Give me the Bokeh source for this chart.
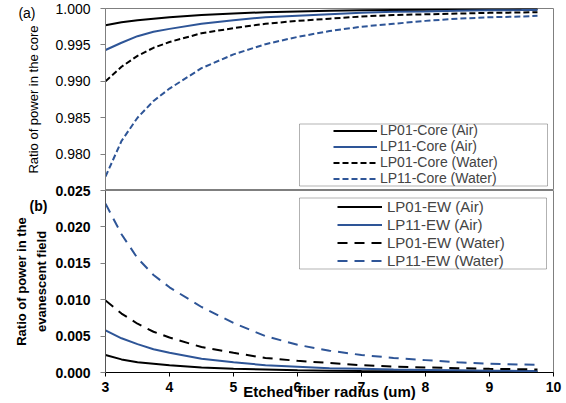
from bokeh.plotting import figure
from bokeh.layouts import column
from bokeh.models import (Range1d, FixedTicker, Legend, LegendItem, LinearAxis,
                          BoxAnnotation, NumeralTickFormatter)
from bokeh.embed import file_html
from bokeh.resources import INLINE

# ---------------- data ----------------
radius = [3, 3.25, 3.5, 3.75, 4, 4.5, 5, 5.5, 6, 6.5, 7, 7.5, 8, 8.5, 9, 9.5, 9.75]

# (a) ratio of power in the core
lp01_core_air = [0.9977, 0.9981, 0.9984, 0.9986, 0.9988, 0.9991, 0.9993, 0.9995, 0.9996,
                 0.9997, 0.99975, 0.9998, 0.99984, 0.99987, 0.9999, 0.99992, 0.99993]
lp11_core_air = [0.9943, 0.9953, 0.9962, 0.9968, 0.9972, 0.9979, 0.9984, 0.9988, 0.9990,
                 0.9992, 0.9994, 0.99955, 0.9996, 0.9997, 0.99975, 0.99978, 0.9998]
lp01_core_water = [0.9900, 0.9920, 0.9935, 0.9946, 0.9954, 0.9966, 0.9973, 0.9979, 0.9983,
                   0.9986, 0.9989, 0.9991, 0.9992, 0.9993, 0.9994, 0.99945, 0.9995]
lp11_core_water = [0.9769, 0.9818, 0.9850, 0.9873, 0.9890, 0.9918, 0.9937, 0.9951, 0.9961,
                   0.9969, 0.9975, 0.9979, 0.9983, 0.9986, 0.9988, 0.9989, 0.9990]

# (b) ratio of power in the evanescent field
lp01_ew_air = [0.0024, 0.0018, 0.0014, 0.0012, 0.0010, 0.0007, 0.0005, 0.0004, 0.0003,
               0.00025, 0.0002, 0.00017, 0.00014, 0.00012, 0.0001, 0.00009, 0.00008]
lp11_ew_air = [0.0058, 0.0047, 0.0039, 0.0032, 0.0027, 0.0019, 0.0014, 0.0010, 0.0008,
               0.0006, 0.0005, 0.0004, 0.00035, 0.0003, 0.00025, 0.00022, 0.0002]
lp01_ew_water = [0.0099, 0.0081, 0.0067, 0.0056, 0.0048, 0.0035, 0.0027, 0.0020, 0.0016,
                 0.0013, 0.0010, 0.0008, 0.0007, 0.0006, 0.0005, 0.00045, 0.0004]
lp11_ew_water = [0.0232, 0.0190, 0.0157, 0.0134, 0.0117, 0.0090, 0.0068, 0.0050, 0.0038,
                 0.0030, 0.0024, 0.0020, 0.0017, 0.0014, 0.0012, 0.0011, 0.00105]

core_labels = ["LP01-Core (Air)", "LP11-Core (Air)", "LP01-Core (Water)", "LP11-Core (Water)"]
ew_labels = ["LP01-EW (Air)", "LP11-EW (Air)", "LP01-EW (Water)", "LP11-EW (Water)"]

x_ticks = [3, 4, 5, 6, 7, 8, 9, 10]
core_ticks = [0.980, 0.985, 0.990, 0.995, 1.000]
ew_ticks = [0.000, 0.005, 0.010, 0.015, 0.020, 0.025]

x_title = "Etched fiber radius (um)"
core_title = "Ratio of power in the core"
ew_title_1 = "Ratio of power in the"
ew_title_2 = "evanescent field"
tag_a, tag_b = "(a)", "(b)"

# ---------------- styling / layout constants ----------------
FONT = "Liberation Sans"
BLUE = "#2E5597"
BLACK = "#000000"
GRAY = "#7f7f7f"
TAG_A_POS = 0.9994     # vertical position of the "(a)" tag on the core axis
TAG_B_POS = 0.0229     # vertical position of the "(b)" tag on the EW axis

colors = [BLACK, BLUE, BLACK, BLUE]


def style_yaxis(ax, size, bold):
    ax.axis_line_color = GRAY
    ax.major_tick_line_color = GRAY
    ax.major_tick_out = 5
    ax.major_tick_in = 0
    ax.minor_tick_out = 0
    ax.minor_tick_in = 0
    ax.major_label_standoff = 10
    ax.major_label_text_font = FONT
    ax.major_label_text_font_size = size
    ax.major_label_text_font_style = "bold" if bold else "normal"
    ax.major_label_text_color = "black"
    ax.axis_label_text_font = FONT
    ax.axis_label_text_color = "black"
    ax.formatter = NumeralTickFormatter(format="0.000")


def tag_axis(pos, text, standoff, bold):
    return LinearAxis(ticker=FixedTicker(ticks=[pos]),
                      major_label_overrides={pos: text},
                      axis_line_color=None, major_tick_line_color=None,
                      minor_tick_line_color=None, major_tick_out=0, major_tick_in=0,
                      minor_tick_out=0, minor_tick_in=0,
                      major_label_standoff=standoff,
                      major_label_text_font=FONT, major_label_text_font_size="14px",
                      major_label_text_font_style="bold" if bold else "normal",
                      major_label_text_color="black")


def title_axis(text, standoff):
    # an axis without ticks that only carries a (second) axis title line
    return LinearAxis(ticker=FixedTicker(ticks=[]), axis_label=text,
                      axis_label_standoff=standoff,
                      axis_label_text_font=FONT, axis_label_text_font_size="13px",
                      axis_label_text_font_style="bold", axis_label_text_color="black",
                      axis_line_color=None, major_tick_line_color=None,
                      minor_tick_line_color=None, major_tick_out=0, major_tick_in=0,
                      minor_tick_out=0, minor_tick_in=0, major_label_standoff=0)


# ---------------- (a) top panel ----------------
top = figure(width=566, height=190, output_backend="svg", toolbar_location=None,
             x_range=Range1d(3, 10), y_range=Range1d(0.975, 1.000),
             x_axis_location=None,
             min_border_left=105, min_border_right=13, min_border_top=8,
             min_border_bottom=0)
top.xgrid.visible = False
top.ygrid.visible = False
top.outline_line_color = GRAY
top.yaxis.ticker = FixedTicker(ticks=core_ticks)
style_yaxis(top.yaxis[0], "14px", False)
top.yaxis.axis_label = core_title
top.yaxis.axis_label_text_font_size = "13px"
top.yaxis.axis_label_text_font_style = "normal"
top.yaxis.axis_label_standoff = 11
top.add_layout(tag_axis(TAG_A_POS, tag_a, -12, False), "left")

core_series = [lp01_core_air, lp11_core_air, lp01_core_water, lp11_core_water]
core_dash = ["solid", "solid", "6 3", "6 3"]
core_r = [top.line(radius, ys, line_color=c, line_width=2, line_dash=d)
          for ys, c, d in zip(core_series, colors, core_dash)]

leg_a = Legend(items=[LegendItem(label=l, renderers=[r]) for l, r in zip(core_labels, core_r)],
               location=(228, 4), padding=0, margin=0, spacing=0,
               glyph_width=44, glyph_height=15, label_height=15, label_standoff=3,
               label_text_font=FONT, label_text_font_size="14px",
               border_line_color=None, background_fill_alpha=0)
top.add_layout(leg_a)
top.add_layout(BoxAnnotation(left=194, right=442, top=66.5, bottom=4.5,
                             left_units="screen", right_units="screen",
                             top_units="screen", bottom_units="screen",
                             fill_color=None, line_color="black", line_width=1))

# ---------------- (b) bottom panel ----------------
bot = figure(width=566, height=220, output_backend="svg", toolbar_location=None,
             x_range=top.x_range, y_range=Range1d(0.000, 0.025),
             min_border_left=105, min_border_right=13, min_border_top=7,
             min_border_bottom=31)
bot.margin = (-7, 0, 0, 0)
bot.border_fill_alpha = 0
bot.xgrid.visible = False
bot.ygrid.visible = False
bot.outline_line_color = GRAY
bot.yaxis.ticker = FixedTicker(ticks=ew_ticks)
style_yaxis(bot.yaxis[0], "14px", True)
bot.yaxis.axis_line_color = "#555555"
bot.yaxis.axis_label = ew_title_2
bot.yaxis.axis_label_text_font_size = "13px"
bot.yaxis.axis_label_text_font_style = "bold"
bot.yaxis.axis_label_standoff = 3
bot.add_layout(title_axis(ew_title_1, 3), "left")
bot.add_layout(tag_axis(TAG_B_POS, tag_b, -37, True), "left")

bot.xaxis.ticker = FixedTicker(ticks=x_ticks)
bot.xaxis.axis_line_color = "black"
bot.xaxis.major_tick_line_color = "black"
bot.xaxis.major_tick_out = 4
bot.xaxis.major_tick_in = 0
bot.xaxis.minor_tick_out = 0
bot.xaxis.minor_tick_in = 0
bot.xaxis.major_label_standoff = 5
bot.xaxis.major_label_text_font = FONT
bot.xaxis.major_label_text_font_size = "14px"
bot.xaxis.major_label_text_font_style = "bold"
bot.xaxis.major_label_text_color = "black"
bot.xaxis.axis_label = x_title
bot.xaxis.axis_label_text_font = FONT
bot.xaxis.axis_label_text_font_size = "15px"
bot.xaxis.axis_label_text_font_style = "bold"
bot.xaxis.axis_label_text_color = "black"
bot.xaxis.axis_label_standoff = -12

ew_series = [lp01_ew_air, lp11_ew_air, lp01_ew_water, lp11_ew_water]
ew_dash = ["solid", "solid", "10 7", "10 7"]
ew_r = [bot.line(radius, ys, line_color=c, line_width=2, line_dash=d)
        for ys, c, d in zip(ew_series, colors, ew_dash)]

leg_b = Legend(items=[LegendItem(label=l, renderers=[r]) for l, r in zip(ew_labels, ew_r)],
               location=(232, 103), padding=0, margin=0, spacing=1,
               glyph_width=45, glyph_height=17, label_height=17, label_standoff=5,
               label_text_font=FONT, label_text_font_size="15px",
               border_line_color=None, background_fill_alpha=0)
bot.add_layout(leg_b)
bot.add_layout(BoxAnnotation(left=194, right=441, top=174.5, bottom=103.5,
                             left_units="screen", right_units="screen",
                             top_units="screen", bottom_units="screen",
                             fill_color=None, line_color="black", line_width=1))

layout = column(top, bot, spacing=0)
open("out.html", "w").write(file_html(layout, INLINE))
